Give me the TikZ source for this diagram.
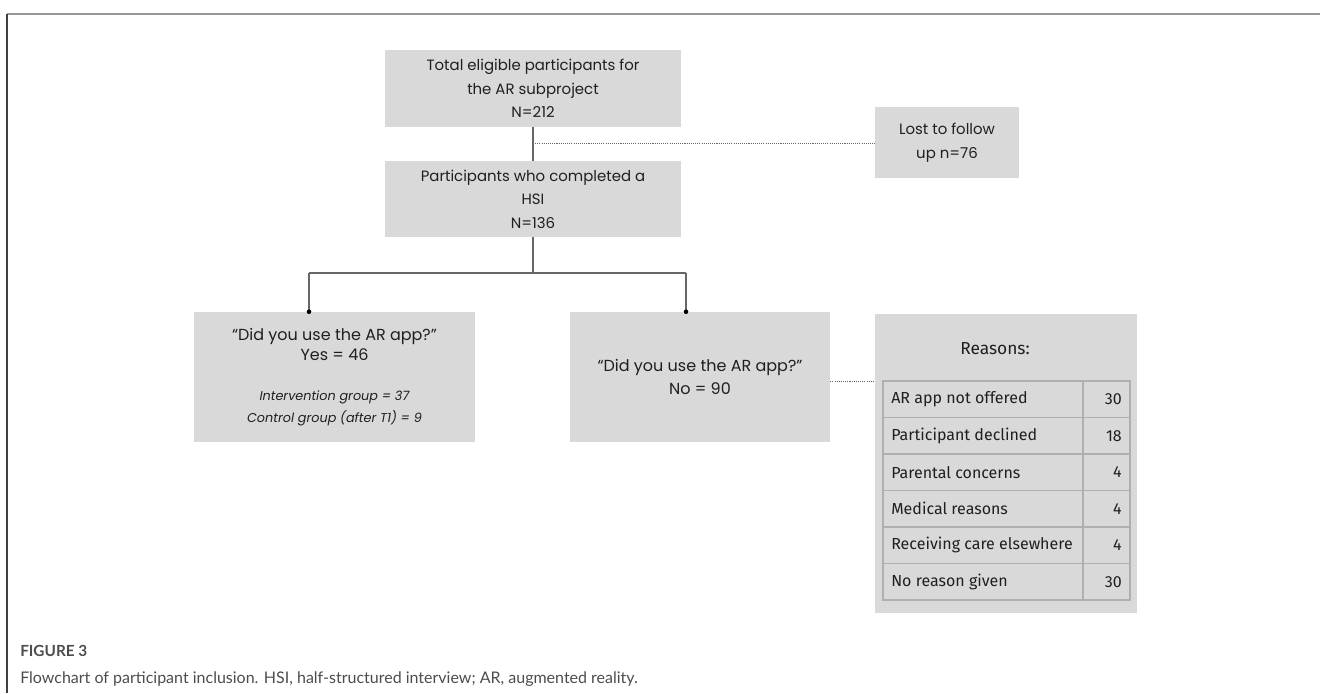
\documentclass[tikz,border=0pt]{standalone}
\usepackage{fontspec}
\setmainfont{Poppins}
\newfontfamily\tabfont{Fira Sans}
\newfontfamily\capfont{Lato}
\definecolor{boxgray}{HTML}{D9D9D9}
\definecolor{txtgray}{HTML}{1F1F1F}
\definecolor{linegray}{HTML}{666666}
\definecolor{tblline}{HTML}{AFAFAF}
\definecolor{capgray}{HTML}{4D4D4D}
\tikzset{
  x=0.75pt,y=-0.75pt,
  pxsize/.style 2 args={minimum width={#1*0.75pt},minimum height={#2*0.75pt}},
  flowbox/.style={fill=boxgray,draw=none,inner sep=0pt,align=center,text=txtgray,
    font=\fontsize{11.2}{17.6}\selectfont},
  askbox/.style={flowbox,font=\fontsize{12}{17.3}\selectfont},
  conn/.style={draw=linegray,line width=1.1pt},
  dotline/.style={draw=linegray,line width=0.6pt,dash pattern=on 0.8pt off 0.8pt},
  tcell/.style={inner sep=0pt,text=txtgray,font=\tabfont\fontsize{12}{14}\selectfont},
  tline/.style={draw=tblline,line width=0.8pt},
  enddot/.style={fill=black},
}
\newcommand\grpline{\itshape\fontsize{9.6}{13.5}\selectfont}
\begin{document}
\begin{tikzpicture}
\useasboundingbox (0,0) rectangle (1320,693);
\fill[white] (0,0) rectangle (1320,693);
% frame
\draw[draw=gray!80,line width=1.2pt] (7,14) -- (1320,14);
\draw[draw=black!75,line width=1.2pt] (7,14) -- (7,693);

% boxes
\node[flowbox,pxsize={296}{77}] (total) at (533,88.5)
  {Total eligible participants for\\the AR subproject\\N=212};
\node[flowbox,pxsize={296}{76}] (hsi) at (533,199)
  {Participants who completed a\\HSI\\N=136};
\node[flowbox,pxsize={144}{71}] (lost) at (947,142.5)
  {Lost to follow\\up n=76};
\node[askbox,pxsize={281}{130}] (yes) at (334.5,377)
  {“Did you use the AR app?”\\[-2pt]Yes = 46\\[13pt]
   \grpline Intervention group = 37\\[-1pt]\grpline Control group (after T1) = 9};
\node[askbox,pxsize={260}{130}] (no) at (700,377)
  {“Did you use the AR app?”\\No = 90};
\node[fill=boxgray,pxsize={262}{299},inner sep=0pt] (reasons) at (1006,463.5) {};
\node[tcell,font=\tabfont\fontsize{13}{15}\selectfont] (rhead) at (995,349) {Reasons:};

% connectors
\coordinate (mid) at (533,143);
\coordinate (split) at (533,273);
\coordinate (lt) at (309,273);
\coordinate (rt) at (686,273);
\coordinate (tbl) at (883,381);
\draw[conn] (total.south) -- (hsi.north);
\draw[dotline] (mid) -- (lost.west |- mid);
\draw[conn] (hsi.south) -- (split);
\draw[conn] (lt) -- (rt);
\draw[conn] (lt) -- (lt |- yes.north);
\draw[conn] (rt) -- (rt |- no.north);
\fill[enddot] (lt |- yes.north) circle (2.3);
\fill[enddot] (rt |- no.north) circle (2.3);
\draw[dotline] (no.east |- tbl) -- (reasons.west |- tbl);

% table
\foreach \i/\lab/\num in {1/AR app not offered/30,2/Participant declined/18,3/Parental concerns/4,4/Medical reasons/4,5/Receiving care elsewhere/4,6/No reason given/30}{
  \node[tcell,anchor=west] (r\i) at (891,{381+36.5*(\i-0.5)}) {\lab};
  \node[tcell,anchor=east] (n\i) at (1122,{381+36.5*(\i-0.5)}) {\num};
}
\foreach \i in {1,...,5}{
  \draw[tline] (883,{381+36.5*\i}) -- (1130,{381+36.5*\i});
}
\draw[tline] (883,381) rectangle (1130,600);
\draw[tline] (1083,381) -- (1083,600);

% caption
\node[anchor=west,inner sep=0pt,text=capgray,font=\capfont\bfseries\fontsize{11.5}{13}\selectfont] (fig) at (20,651) {FIGURE 3};
\node[anchor=west,inner sep=0pt,text=capgray,font=\capfont\fontsize{12}{14}\selectfont] (cap) at (20,679)
  {Flowchart of participant inclusion. HSI, half-structured interview; AR, augmented reality.};
\end{tikzpicture}
\end{document}
